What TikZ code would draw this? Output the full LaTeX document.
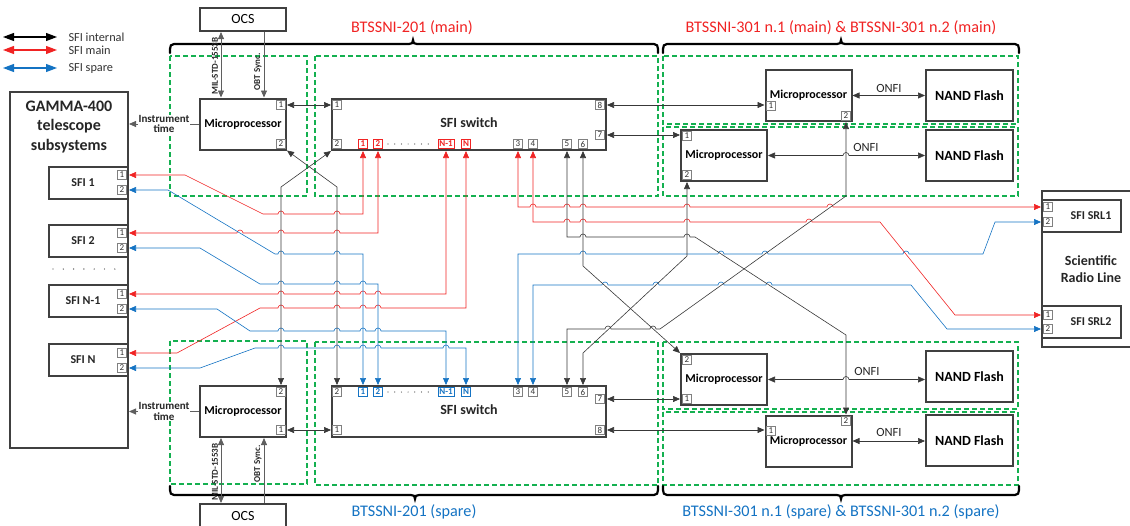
\documentclass[tikz,border=0pt]{standalone}
\usepackage{fontspec}
\setmainfont{Carlito}
\usetikzlibrary{arrows.meta}
\definecolor{sfired}{RGB}{240,35,35}
\definecolor{sfiblue}{RGB}{20,115,195}
\definecolor{sfigreen}{RGB}{20,176,80}
\definecolor{boxgray}{RGB}{64,64,64}
\definecolor{linegray}{RGB}{95,95,95}
\begin{document}
\begin{tikzpicture}[x=1pt,y=-1pt,
  >={Triangle[length=7pt,width=6pt]},
  box/.style={draw=boxgray, line width=2pt, fill=white, inner sep=1pt, align=center},
  mp/.style={box, minimum width=86pt, minimum height=51pt, font=\bfseries\fontsize{12}{14}\selectfont},
  nand/.style={box, minimum width=87pt, minimum height=51pt, font=\bfseries\fontsize{14}{16}\selectfont},
  sw/.style={box, minimum width=274pt, minimum height=51pt},
  sfibox/.style={box, minimum width=79pt, minimum height=32pt},
  lbl/.style={font=\bfseries\fontsize{12}{14}\selectfont, text=black!85},
  port/.style={draw=gray, fill=white, line width=0.6pt, inner sep=0pt, minimum width=9.5pt, minimum height=9.5pt, font=\fontsize{9}{9}\selectfont, text=black!80},
  rport/.style={port, draw=sfired, text=sfired, font=\bfseries\fontsize{9}{9}\selectfont, inner xsep=1.5pt},
  bport/.style={port, draw=sfiblue, text=sfiblue, font=\bfseries\fontsize{9}{9}\selectfont, inner xsep=1.5pt},
  gbox/.style={draw=sfigreen, line width=1.4pt, dash pattern=on 5pt off 3pt},
  brace/.style={draw=black, line width=2.2pt, line cap=round},
  bw/.style={draw=black!78, line width=0.6pt, <->},
  rw/.style={draw=sfired, line width=0.6pt, <->},
  blw/.style={draw=sfiblue, line width=0.6pt, <->},
  gw/.style={draw=linegray, line width=0.8pt},
  legarrow/.style={line width=1.1pt, {Triangle[length=11pt,width=8pt]}-{Triangle[length=11pt,width=8pt]}},
  legtext/.style={anchor=west, font=\fontsize{12.3}{14}\selectfont, text=black!80},
  hr/.style={insert path={arc[start angle=180,end angle=0,radius=3pt]}},
  onfi/.style={font=\fontsize{12.5}{13}\selectfont, text=black!85},
  bt/.style={font=\fontsize{16.2}{18}\selectfont}
]
\useasboundingbox (0,0) rectangle (1130,525);

% ---------- legend ----------
\coordinate (lgk1) at (3,37); \coordinate (lgk2) at (57,37);
\coordinate (lgr1) at (3,50); \coordinate (lgr2) at (57,50);
\coordinate (lgb1) at (3,68); \coordinate (lgb2) at (57,68);
\draw[legarrow, black] (lgk1) -- (lgk2);
\draw[legarrow, sfired] (lgr1) -- (lgr2);
\draw[legarrow, sfiblue] (lgb1) -- (lgb2);
\node[legtext] (lgkt) at (65,37) {SFI internal};
\node[legtext] (lgrt) at (65,50) {SFI main};
\node[legtext] (lgbt) at (65,68) {SFI spare};

% ---------- green dashed groups ----------
\draw[gbox] (170,56) rectangle (307,196);
\draw[gbox] (315,56) rectangle (658,196);
\draw[gbox] (663,56) rectangle (1018,124);
\draw[gbox] (663,127) rectangle (1018,196);
\draw[gbox] (170,341) rectangle (307,484);
\draw[gbox] (315,342) rectangle (658,485);
\draw[gbox] (663,342) rectangle (1018,409);
\draw[gbox] (663,412) rectangle (1018,485);

% ---------- braces ----------
\draw[brace] (170,53) -- (170,49) .. controls (170,46) and (171,44) .. (174,44) -- (409,44) .. controls (412,44) and (413,43) .. (413,40) .. controls (413,43) and (414,44) .. (417,44) -- (654,44) .. controls (657,44) and (658,46) .. (658,49) -- (658,53);
\draw[brace] (663,53) -- (663,49) .. controls (663,46) and (664,44) .. (667,44) -- (837,44) .. controls (840,44) and (841,43) .. (841,40) .. controls (841,43) and (842,44) .. (845,44) -- (1015,44) .. controls (1018,44) and (1019,46) .. (1019,49) -- (1019,53);
\draw[brace] (170,486) -- (170,490) .. controls (170,493) and (171,495) .. (174,495) -- (411,495) .. controls (414,495) and (415,496) .. (415,499) .. controls (415,496) and (416,495) .. (419,495) -- (654,495) .. controls (657,495) and (658,493) .. (658,490) -- (658,486);
\draw[brace] (663,486) -- (663,490) .. controls (663,493) and (664,495) .. (667,495) -- (837,495) .. controls (840,495) and (841,496) .. (841,499) .. controls (841,496) and (842,495) .. (845,495) -- (1015,495) .. controls (1018,495) and (1019,493) .. (1019,490) -- (1019,486);
\node[bt, text=sfired] (lab201m) at (412,28) {BTSSNI-201 (main)};
\node[bt, text=sfired] (lab301m) at (841,28) {BTSSNI-301 n.1 (main) \& BTSSNI-301 n.2 (main)};
\node[bt, text=sfiblue] (lab201s) at (414,512) {BTSSNI-201 (spare)};
\node[bt, text=sfiblue] (lab301s) at (841,512) {BTSSNI-301 n.1 (spare) \& BTSSNI-301 n.2 (spare)};

% ---------- boxes ----------
\node[box, minimum width=86pt, minimum height=23pt, font=\fontsize{14}{16}\selectfont] (ocsT) at (243,19.5) {OCS};
\node[box, minimum width=86pt, minimum height=24pt, font=\fontsize{14}{16}\selectfont] (ocsB) at (243,516) {OCS};
\node[box, minimum width=118pt, minimum height=356pt] (gamma) at (69,270) {};
\node[font=\bfseries\fontsize{16}{19.5}\selectfont, align=center, text=black!85] (gammatxt) at (69,127) {GAMMA-400\\telescope\\subsystems};
\node[sfibox] (sfi1) at (88.5,183) {};
\node[sfibox] (sfi2) at (88.5,241) {};
\node[sfibox] (sfiN1) at (88.5,301) {};
\node[sfibox] (sfiN) at (88.5,360) {};
\node[lbl] (sfi1t) at (83,183) {SFI 1};
\node[lbl] (sfi2t) at (83,241) {SFI 2};
\node[lbl] (sfiN1t) at (83,301) {SFI N-1};
\node[lbl] (sfiNt) at (83,360) {SFI N};

\node[mp] (mpA) at (243,124) {Microprocessor};
\node[sw] (swA) at (469,124.5) {};
\node[font=\bfseries\fontsize{14}{16}\selectfont, text=black!85] (swAt) at (469,123) {SFI switch};
\node[mp] (mp1m) at (808.5,95.5) {Microprocessor};
\node[nand] (nf1m) at (969.5,95.5) {NAND Flash};
\node[mp] (mp2m) at (724,155.5) {Microprocessor};
\node[nand] (nf2m) at (969.5,155.5) {NAND Flash};

\node[mp] (mpB) at (243,411.5) {Microprocessor};
\node[sw] (swB) at (469,411.5) {};
\node[font=\bfseries\fontsize{14}{16}\selectfont, text=black!85] (swBt) at (469,410) {SFI switch};
\node[mp] (mp1s) at (724,379.5) {Microprocessor};
\node[nand] (nf1s) at (969.5,376.5) {NAND Flash};
\node[mp] (mp2s) at (808.5,441) {Microprocessor};
\node[nand] (nf2s) at (969.5,440.5) {NAND Flash};

\node[box, minimum width=98pt, minimum height=156pt] (srl) at (1091,269) {};
\node[font=\bfseries\fontsize{14}{17}\selectfont, align=center, text=black!85] (srlt) at (1091,269) {Scientific\\Radio Line};
\node[sfibox] (srl1) at (1081.5,215.5) {};
\node[sfibox] (srl2) at (1081.5,322) {};
\node[lbl] (srl1t) at (1091,215.5) {SFI SRL1};
\node[lbl] (srl2t) at (1091,322) {SFI SRL2};

% ---------- dots ----------
\foreach \i in {0,...,6} {
  \fill[black!70] ({388+\i*6.7},144) circle (0.6pt);
  \fill[black!70] ({388+\i*6.7},392) circle (0.6pt);
  \fill[black!70] ({53+\i*10.3},269) circle (0.7pt);
}

% ---------- OCS links ----------
\draw[gw,<->] ([xshift=-22pt]ocsT.south) -- ([xshift=-22pt]mpA.north);
\draw[gw,->] ([xshift=21pt]ocsT.south) -- ([xshift=21pt]mpA.north);
\node[rotate=90, font=\bfseries\fontsize{9}{10}\selectfont, text=black!85] (milT) at (215,66) {MIL-STD-1553B};
\node[rotate=90, font=\bfseries\fontsize{9}{10}\selectfont, text=black!85] (obtT) at (258,72) {OBT Sync.};
\draw[gw,<->] ([xshift=-22pt]mpB.south) -- ([xshift=-22pt]ocsB.north);
\draw[gw,->] ([xshift=21pt]ocsB.north) -- ([xshift=21pt]mpB.south);
\node[rotate=90, font=\bfseries\fontsize{9}{10}\selectfont, text=black!85] (milB) at (215,472) {MIL-STD-1553B};
\node[rotate=90, font=\bfseries\fontsize{9}{10}\selectfont, text=black!85] (obtB) at (258,464) {OBT Sync.};
\draw[gw,->] (mpA.west) -- (gamma.east |- mpA.west) node[midway, fill=white, inner sep=0.5pt, align=center, font=\bfseries\fontsize{11}{10.5}\selectfont, text=black!85] (itA) {Instrument\\time};
\draw[gw,->] (mpB.west) -- (gamma.east |- mpB.west) node[midway, fill=white, inner sep=0.5pt, align=center, font=\bfseries\fontsize{11}{10.5}\selectfont, text=black!85] (itB) {Instrument\\time};

% ---------- ports ----------
\node[port] (sfi1p1) at (122,175) {1}; \node[port] (sfi1p2) at (122,190) {2};
\node[port] (sfi2p1) at (122,233) {1}; \node[port] (sfi2p2) at (122,248) {2};
\node[port] (sfiN1p1) at (122,294) {1}; \node[port] (sfiN1p2) at (122,309) {2};
\node[port] (sfiNp1) at (122,353) {1}; \node[port] (sfiNp2) at (122,368) {2};

\node[port] (mpAp1) at (281,105) {1}; \node[port] (mpAp2) at (281,144) {2};
\node[port] (swAp1) at (337,105) {1}; \node[port] (swAp8) at (600,105) {8};
\node[port] (swAp7) at (600,135) {7}; \node[port] (swAp2) at (337,144) {2};
\node[rport] (swAr1) at (363,144) {1}; \node[rport] (swAr2) at (378,144) {2};
\node[rport] (swArN1) at (446,144) {N-1}; \node[rport] (swArN) at (466,144) {N};
\node[port] (swAp3) at (518,144) {3}; \node[port] (swAp4) at (533,144) {4};
\node[port] (swAp5) at (567,144) {5}; \node[port] (swAp6) at (583,144) {6};
\node[port] (mp1mp1) at (771,106) {1}; \node[port] (mp1mp2) at (846,116) {2};
\node[port] (mp2mp1) at (687,136) {1}; \node[port] (mp2mp2) at (687,175) {2};

\node[port] (mpBp2) at (281,392) {2}; \node[port] (mpBp1) at (281,430) {1};
\node[port] (swBp2) at (337,392) {2};
\node[bport] (swBb1) at (363,392) {1}; \node[bport] (swBb2) at (378,392) {2};
\node[bport] (swBbN1) at (446,392) {N-1}; \node[bport] (swBbN) at (466,392) {N};
\node[port] (swBp3) at (518,392) {3}; \node[port] (swBp4) at (533,392) {4};
\node[port] (swBp5) at (567,392) {5}; \node[port] (swBp6) at (583,392) {6};
\node[port] (swBp7) at (600,399) {7}; \node[port] (swBp1) at (337,430) {1};
\node[port] (swBp8) at (600,430) {8};
\node[port] (mp1sp2) at (687,360) {2}; \node[port] (mp1sp1) at (687,399) {1};
\node[port] (mp2sp1) at (771,431) {1}; \node[port] (mp2sp2) at (846,421) {2};

\node[port] (srl1p1) at (1048,207) {1}; \node[port] (srl1p2) at (1048,222) {2};
\node[port] (srl2p1) at (1048,315) {1}; \node[port] (srl2p2) at (1048,329) {2};

% ---------- red wires (SFI main) ----------
\draw[rw] (sfi1.east |- sfi1p1) -- (185,175) -- (263,214) -- (278,214) [hr] -- (334,214) [hr] -- (363,214) -- (swAr1 |- swA.south);
\draw[rw] (sfi2.east |- sfi2p1) -- (237,233) [hr] -- (278,233) [hr] -- (334,233) [hr] -- (378,233) -- (swAr2 |- swA.south);
\draw[rw] (sfiN1.east |- sfiN1p1) -- (278,294) [hr] -- (334,294) [hr] -- (360,294) [hr] -- (375,294) [hr] -- (446,294) -- (swArN1 |- swA.south);
\draw[rw] (sfiN.east |- sfiNp1) -- (177,353) -- (260,308) -- (278,308) [hr] -- (334,308) [hr] -- (360,308) [hr] -- (375,308) [hr] -- (466,308) -- (swArN |- swA.south);
\draw[rw] (swAp3 |- swA.south) -- (518,207) -- (530,207) [hr] -- (564,207) [hr] -- (580,207) [hr] -- (684,207) [hr] -- (827,207) [hr] -- (srl1.west |- srl1p1);
\draw[rw] (swAp4 |- swA.south) -- (533,222) -- (564,222) [hr] -- (580,222) [hr] -- (684,222) [hr] -- (806,222) [hr] -- (880,222) -- (955,315) -- (srl2.west |- srl2p1);

% ---------- blue wires (SFI spare) ----------
\draw[blw] (sfi1.east |- sfi1p2) -- (168,190) -- (275,254) -- (278,254) [hr] -- (334,254) [hr] -- (363,254) -- (swBb1 |- swB.north);
\draw[blw] (sfi2.east |- sfi2p2) -- (200,248) -- (260,284) -- (278,284) [hr] -- (334,284) [hr] -- (360,284) [hr] -- (378,284) -- (swBb2 |- swB.north);
\draw[blw] (sfiN1.east |- sfiN1p2) -- (217,309) -- (250,331) -- (278,331) [hr] -- (334,331) [hr] -- (360,331) [hr] -- (375,331) [hr] -- (446,331) -- (swBbN1 |- swB.north);
\draw[blw] (sfiN.east |- sfiNp2) -- (200,368) -- (255,348) -- (278,348) [hr] -- (334,348) [hr] -- (360,348) [hr] -- (375,348) [hr] -- (443,348) [hr] -- (466,348) -- (swBbN |- swB.north);
\draw[blw] (swBp3 |- swB.north) -- (518,254) -- (580,254) [hr] -- (718,254) [hr] -- (762,254) [hr] -- (903,254) [hr] -- (983,254) -- (995,222) -- (srl1.west |- srl1p2);
\draw[blw] (swBp4 |- swB.north) -- (533,285) -- (602,285) [hr] -- (653,285) [hr] -- (718,285) [hr] -- (766,285) [hr] -- (911,285) -- (947,329) -- (srl2.west |- srl2p2);

% ---------- black wires (SFI internal) ----------
\draw[bw] (mpA.south east) -- (337,187) -- (swBp2 |- swB.north);
\draw[bw] (swA.south west) -- (281,187) -- (mpBp2 |- mpB.north);
\draw[bw] (swAp5 |- swA.south) -- (567,237) -- (580,237) [hr] -- (684,237) [hr] -- (695,237) -- (846,335) -- (mp2sp2 |- mp2s.north);
\draw[bw] (swAp6 |- swA.south) -- (583,266) -- (mp1s.north west);
\draw[bw] (swBp5 |- swB.north) -- (567,329) -- (605,329) [hr] -- (650,329) [hr] -- (660,329) -- (846,196) -- (mp1mp2 |- mp1m.south);
\draw[bw] (swBp6 |- swB.north) -- (583,353) -- (687,256) -- (mp2mp2 |- mp2m.south);

\draw[bw] (mpA.east |- mpAp1) -- (swA.west |- mpAp1);
\draw[bw] (swA.east |- swAp8) -- (mp1m.west |- swAp8);
\draw[bw] (swA.east |- swAp7) -- (mp2m.west |- swAp7);
\draw[bw] (mpB.east |- mpBp1) -- (swB.west |- mpBp1);
\draw[bw] (swB.east |- swBp7) -- (mp1s.west |- swBp7);
\draw[bw] (swB.east |- swBp8) -- (mp2s.west |- swBp8);

% ---------- ONFI ----------
\draw[bw] (mp1m.east) -- (nf1m.west);
\draw[bw] (mp2m.east) -- (843,155.5) [hr] -- (nf2m.west);
\draw[bw] (mp1s.east) -- (843,379.5) [hr] -- (nf1s.west |- mp1s.east);
\draw[bw] (mp2s.east) -- (nf2s.west |- mp2s.east);
\node[onfi] (onfi1) at (889,88) {ONFI};
\node[onfi] (onfi2) at (866,147) {ONFI};
\node[onfi] (onfi3) at (867,371) {ONFI};
\node[onfi] (onfi4) at (889,432) {ONFI};
\end{tikzpicture}
\end{document}
